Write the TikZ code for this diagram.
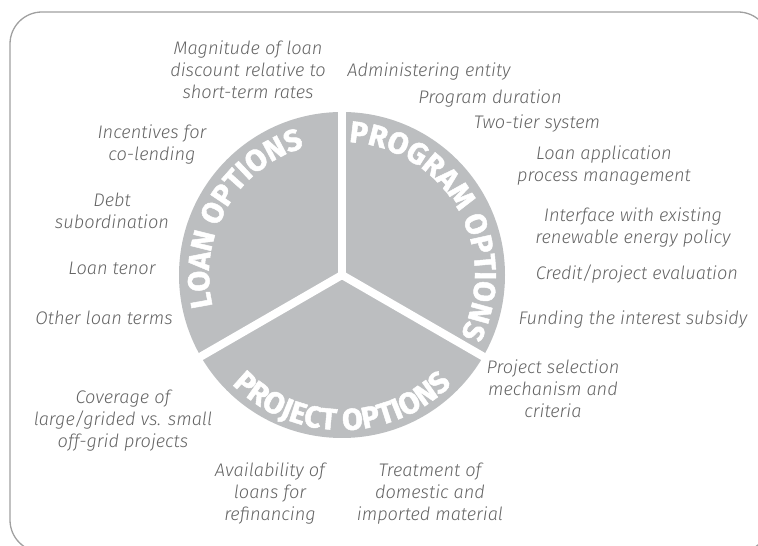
\documentclass[tikz,border=0pt]{standalone}
\usepackage{fontspec}
\setmainfont{Fira Sans}[UprightFont=* Light, ItalicFont=* Light Italic]
\newfontfamily\titlefont{Fira Sans}[BoldFeatures={FakeBold=1.6}]
\usetikzlibrary{decorations.text,calc}
\definecolor{piegray}{RGB}{188,190,192}
\definecolor{labelgray}{RGB}{100,100,100}
\definecolor{framegray}{RGB}{160,160,160}
\begin{document}
\begin{tikzpicture}[x=1pt,y=1pt,
  lbl/.style={font=\itshape\fontsize{18.2}{22}\selectfont, text=labelgray, align=center, inner sep=0pt},
  divider/.style={draw=white, line width=8pt},
  wedgetitle/.style={decorate, decoration={text along path, text align=center,
     text color=white, text={|\titlefont\bfseries\fontsize{30}{30}\selectfont|#1}}}]
\useasboundingbox (0,0) rectangle (758,546);
% outer frame
\draw[framegray, line width=1.3pt, rounded corners=32pt] (10,-6) rectangle (770,534);

% the three-part disc
\coordinate (ctr) at (342,271);
\node[circle, fill=piegray, minimum size=326pt, inner sep=0pt] (pie) at (ctr) {};
\draw[divider] (ctr) -- ++(90:170);
\draw[divider] (ctr) -- ++(210:170);
\draw[divider] (ctr) -- ++(330:170);

% curved titles of the three parts
\path[wedgetitle=LOAN OPTIONS] ($(ctr)+(215:133)$) arc[start angle=215, end angle=85, radius=133];
\path[wedgetitle=PROGRAM OPTIONS] ($(ctr)+(95:133)$) arc[start angle=95, end angle=-35, radius=133];
\path[wedgetitle=PROJECT OPTIONS] ($(ctr)+(205:155)$) arc[start angle=205, end angle=335, radius=155];

% loan options
\node[lbl] (l1) at (248,476) {Magnitude of loan\\discount relative to\\short-term rates};
\node[lbl] (l2) at (152,401) {Incentives for\\co-lending};
\node[lbl] (l3) at (112,335) {Debt\\subordination};
\node[lbl] (l4) at (112,278) {Loan tenor};
\node[lbl] (l5) at (104,228) {Other loan terms};

% program options
\node[lbl] (p1) at (429,474) {Administering entity};
\node[lbl] (p2) at (490,447) {Program duration};
\node[lbl] (p3) at (537,422) {Two-tier system};
\node[lbl] (p4) at (604,380) {Loan application\\process management};
\node[lbl] (p5) at (633,318) {Interface with existing\\renewable energy policy};
\node[lbl] (p6) at (637,272) {Credit/project evaluation};
\node[lbl] (p7) at (633,226) {Funding the interest subsidy};

% project options
\node[lbl] (j1) at (553,157) {Project selection\\mechanism and\\criteria};
\node[lbl] (j2) at (430,52) {Treatment of\\domestic and\\imported material};
\node[lbl] (j3) at (270,52) {Availability of\\loans for\\refinancing};
\node[lbl] (j4) at (123,125) {Coverage of\\large/grided vs. small\\off-grid projects};
\end{tikzpicture}
\end{document}
